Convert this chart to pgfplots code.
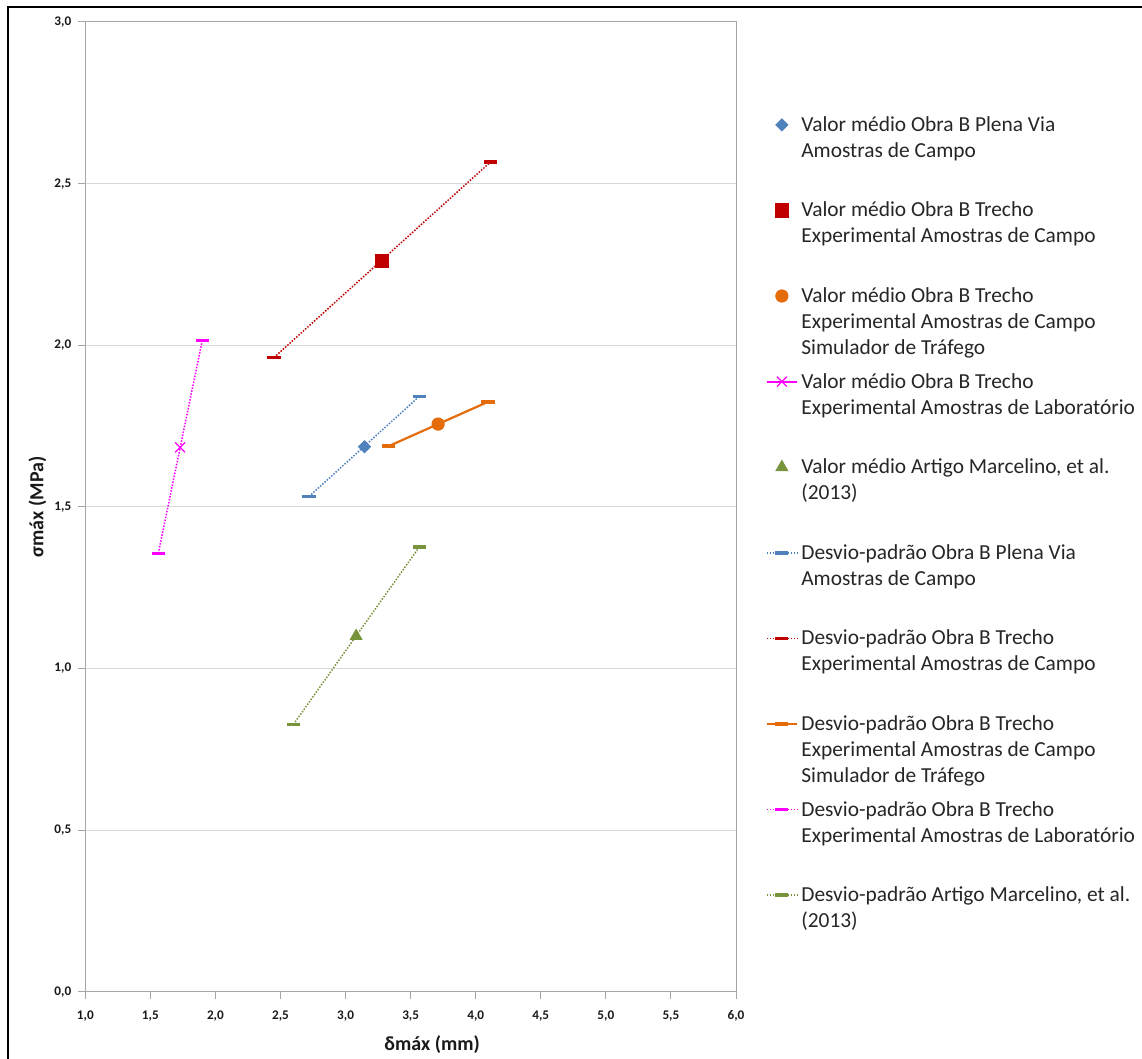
\documentclass[border=0pt]{standalone}
\usepackage{fontspec}
\setmainfont{Carlito}
\usepackage{pgfplots}
\pgfplotsset{compat=1.18}
\definecolor{cblue}{HTML}{4F81BD}
\definecolor{cred}{HTML}{C00000}
\definecolor{corange}{HTML}{E46C0A}
\definecolor{cmag}{HTML}{FF00FF}
\definecolor{cgreen}{HTML}{77933C}
\newcommand{\LII}[2]{\vtop{\hbox{#1}\hbox{#2}}}
\newcommand{\LIII}[3]{\vtop{\hbox{#1}\hbox{#2}\hbox{#3}}}
\begin{document}
\begin{tikzpicture}
\useasboundingbox (0,0) rectangle (571pt,-529.5pt);
\draw[black, line width=1pt] (4pt,-3.5pt) rectangle (620pt,-580pt);
\begin{axis}[
  at={(42.65pt,-495.85pt)}, anchor=south west,
  width=325.35pt, height=484.85pt, scale only axis,
  xmin=1, xmax=6, ymin=0, ymax=3,
  xtick distance=0.5, ytick distance=0.5,
  ymajorgrids, grid style={draw=black!15, line width=0.5pt},
  axis line style={draw=black!35, line width=0.5pt},
  tick style={draw=black!35, line width=0.5pt},
  tick align=outside, tick pos=left,
  major tick length=3.5pt,
  /pgf/number format/.cd, fixed, fixed zerofill, precision=1, use comma, assume math mode=true,
  /pgfplots/.cd,
  tick label style={font=\fontsize{6.6}{8}\selectfont\bfseries, text=black!90},
  xticklabel style={yshift=-2.5pt},
  xlabel={δmáx (mm)}, ylabel={σmáx (MPa)},
  label style={font=\fontsize{10}{12}\selectfont\bfseries, text=black!90},
  xlabel style={at={(axis description cs:0.533,-0.055)}, anchor=center},
  ylabel style={at={(axis description cs:-0.0735,0.5)}, anchor=center},
  legend image code/.code={\draw[mark repeat=2,mark phase=2,#1] plot coordinates {(0cm,0cm) (0.27cm,0cm) (0.54cm,0cm)};},
  legend style={draw=none, fill=none, inner sep=0pt, row sep=0pt,
    at={(axis description cs:1.0446,0.9043)}, anchor=north west,
    cells={anchor=base west},
    nodes={inner sep=0pt, text height=8pt, text depth=34.8pt, yshift=-3.2pt,
      font=\fontsize{10.7}{13}\selectfont, text=black!85},
    /tikz/every odd column/.append style={column sep=1.5pt}},
  stdline/.style={line width=0.75pt, dash pattern=on 0.75pt off 0.75pt, mark=-, mark size=3.3pt, mark options={solid, line width=1.8pt}},
]
% mean values
\addplot[only marks, mark=square*, mark size=2.15pt, mark options={rotate=45}, color=cblue] coordinates {(3.145,1.686)};
\addlegendentry{\LII{Valor médio Obra B Plena Via}{Amostras de Campo}}
\addplot[only marks, mark=square*, mark size=3.3pt, color=cred] coordinates {(3.278,2.262)};
\addlegendentry{\LII{Valor médio Obra B Trecho}{Experimental Amostras de Campo}}
\addplot[only marks, mark=*, mark size=3.1pt, color=corange] coordinates {(3.711,1.756)};
\addlegendentry{\LIII{Valor médio Obra B Trecho}{Experimental Amostras de Campo}{Simulador de Tráfego}}
\addplot[line width=1pt, mark=x, mark size=3.5pt, mark options={line width=0.6pt}, color=cmag] coordinates {(1.728,1.684)};
\addlegendentry{\LII{Valor médio Obra B Trecho}{Experimental Amostras de Laboratório}}
\addplot[only marks, mark=triangle*, mark size=3.4pt, color=cgreen] coordinates {(3.081,1.100)};
\addlegendentry{\LII{Valor médio Artigo Marcelino, et al.}{(2013)}}
% standard deviations
\addplot[stdline, color=cblue] coordinates {(2.719,1.532) (3.567,1.842)};
\addlegendentry{\LII{Desvio-padrão Obra B Plena Via}{Amostras de Campo}}
\addplot[stdline, color=cred] coordinates {(2.450,1.962) (4.111,2.566)};
\addlegendentry{\LII{Desvio-padrão Obra B Trecho}{Experimental Amostras de Campo}}
\addplot[line width=1.1pt, mark=-, mark size=3.3pt, mark options={line width=1.8pt}, color=corange] coordinates {(3.332,1.688) (4.095,1.825)};
\addlegendentry{\LIII{Desvio-padrão Obra B Trecho}{Experimental Amostras de Campo}{Simulador de Tráfego}}
\addplot[stdline, color=cmag] coordinates {(1.561,1.356) (1.899,2.015)};
\addlegendentry{\LII{Desvio-padrão Obra B Trecho}{Experimental Amostras de Laboratório}}
\addplot[stdline, color=cgreen] coordinates {(2.599,0.827) (3.565,1.375)};
\addlegendentry{\LII{Desvio-padrão Artigo Marcelino, et al.}{(2013)}}
\end{axis}
\end{tikzpicture}
\end{document}
